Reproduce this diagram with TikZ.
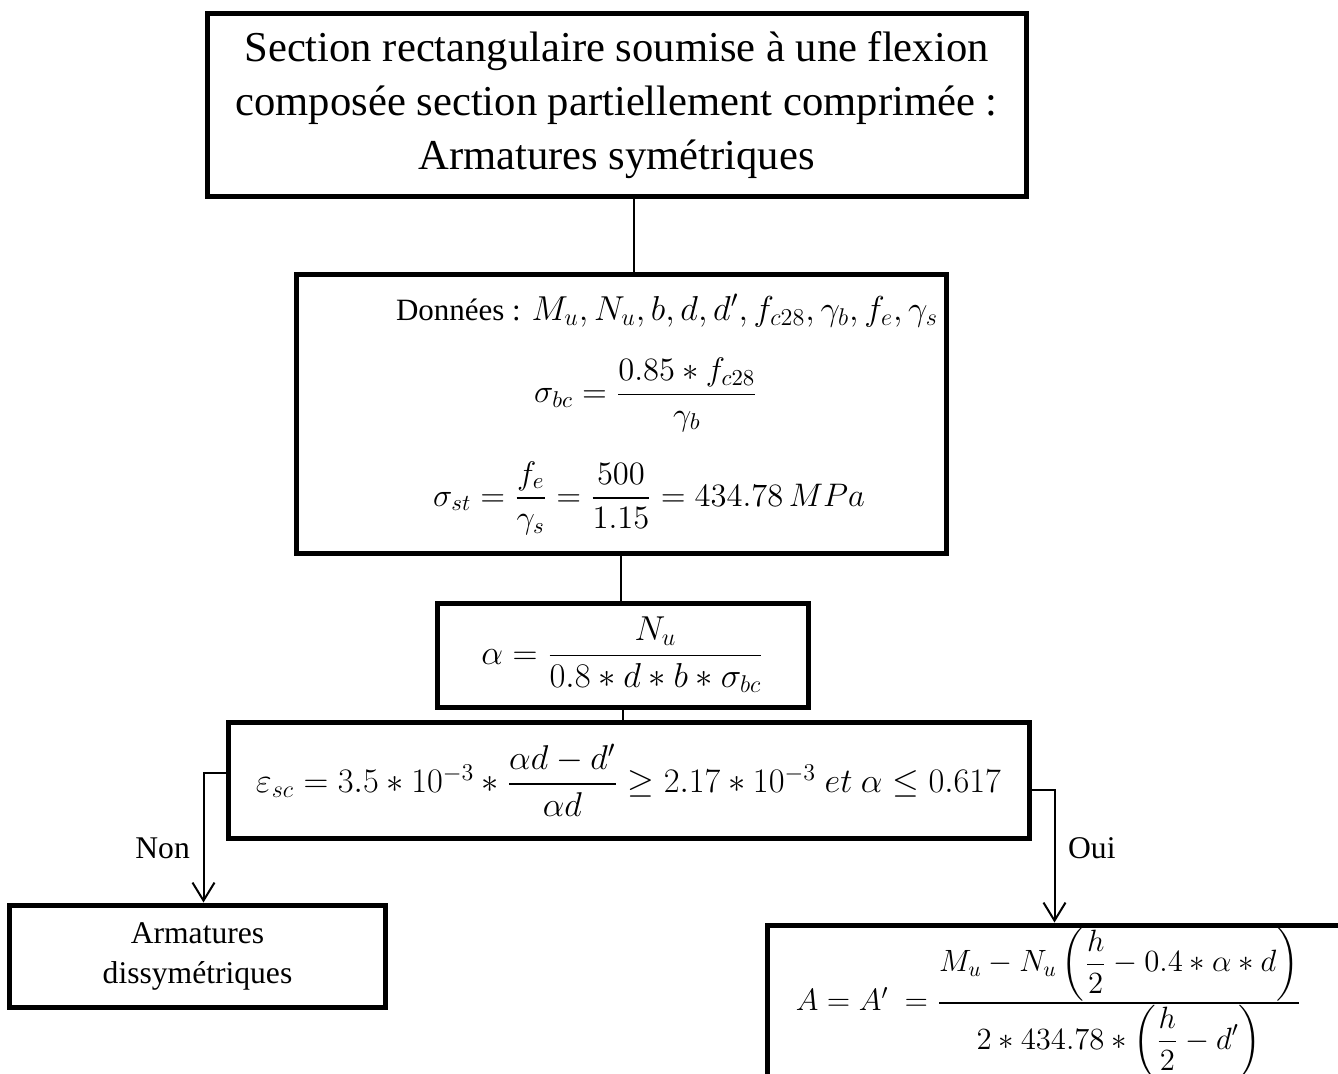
\documentclass[tikz,border=0pt]{standalone}
\usepackage{fix-cm}
\usepackage{amsmath,amssymb}
\usepackage{fontspec}
\setmainfont{Liberation Serif}
\usetikzlibrary{arrows.meta,positioning}

\begin{document}
\begin{tikzpicture}[
        x=0.5pt, y=-0.5pt,
        box/.style={draw, line width=2.5pt, align=center, inner sep=0pt, font=\fontsize{16.3}{19}\selectfont},
        link/.style={line width=1pt},
        arrow/.style={link, -{Straight Barb[length=9pt,width=11pt]}},
        answer/.style={font=\fontsize{15.8}{19}\selectfont}
    ]
        \useasboundingbox (0,0) rectangle (1338,1074);
        \clip (0,0) rectangle (1338,1074);
        \node[box, minimum width=409.5pt, minimum height=91.5pt, font=\fontsize{21.3}{27}\selectfont] (title) at (616.5,105.5)
            {Section rectangulaire soumise à une flexion\\composée section partiellement comprimée :\\Armatures symétriques};
        \node[box, minimum width=325pt, minimum height=139.5pt, below=36.5pt of title, xshift=2.25pt] (data)
            {\hspace*{46pt}{\fontsize{15.5}{19}\selectfont Données :} {\fontsize{17.3}{19}\selectfont$M_u, N_u, b, d, d', f_{c28}, \gamma_b, f_e, \gamma_s$}\\[14.5pt]
             \hspace*{25pt}$\sigma_{bc} = \dfrac{0.85 * f_{c28}}{\gamma_b}$\\[14pt]
             \hspace*{28pt}$\sigma_{st} = \dfrac{f_e}{\gamma_s} = \dfrac{500}{1.15} = 434.78\,MPa$};
        \node[box, minimum width=185.5pt, minimum height=52pt, below=22pt of data, xshift=0.75pt, font=\fontsize{17.3}{20}\selectfont] (alpha)
            {$\alpha = \dfrac{N_u}{0.8 * d * b * \sigma_{bc}}$};
        \node[box, minimum width=400.5pt, minimum height=58pt, below=5pt of alpha, xshift=3pt, font=\fontsize{17.2}{20}\selectfont] (cond)
            {$\varepsilon_{sc} = 3.5 * 10^{-3} * \dfrac{\alpha d - d'}{\alpha d} \geq 2.17 * 10^{-3}\ et\ \alpha \leq 0.617$};
        \node[box, minimum width=188pt, minimum height=51pt, below=31pt of cond.south west, xshift=-14pt, font=\fontsize{15.8}{20}\selectfont] (no)
            {Armatures\\dissymétriques};
        \node[box, minimum width=297pt, minimum height=78pt, below=41pt of cond.south east, xshift=16.5pt, font=\fontsize{15.4}{19}\selectfont] (yes)
            {$A = A'\ = \frac{\displaystyle M_u - N_u\left(\frac{h}{2} - 0.4 * \alpha * d\right)}{\displaystyle 2 * 434.78 * \left(\frac{h}{2} - d'\right)}$\hspace*{16pt}\null};
        % liaisons
        \draw[link] ([xshift=8.75pt]title.south) coordinate (t) -- (t |- data.north);
        \draw[link] (data.south) -- (data.south |- alpha.north);
        \draw[link] (alpha.south) -- (alpha.south |- cond.north);
        \draw[arrow] ([yshift=3.5pt]cond.west) -| ([xshift=3pt]no.north) node[answer, pos=0.79, left=3pt] {Non};
        \draw[arrow] ([yshift=-5pt]cond.east) -| ([xshift=-5pt]yes.north) node[answer, pos=0.72, right=3pt] {Oui};
    \end{tikzpicture}
\end{document}
